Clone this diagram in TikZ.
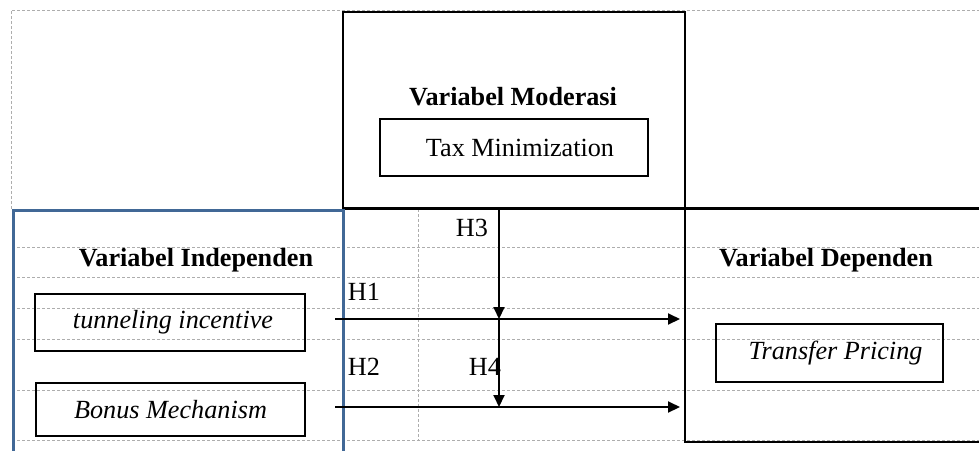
\documentclass[tikz,border=0pt]{standalone}
\usepackage{fontspec}
\setmainfont{Liberation Serif}
\usetikzlibrary{arrows.meta}
\begin{document}
\begin{tikzpicture}[x=0.5pt,y=-0.5pt,
  grid/.style={draw=black!32, line width=0.5pt, dash pattern=on 1.5pt off 1pt},
  frame/.style={draw=black, line width=1pt, inner sep=0pt, anchor=north west},
  varbox/.style={draw=black, line width=1pt, inner sep=0pt, font=\fontsize{13.1}{15}\selectfont\itshape},
  title/.style={inner sep=0pt, font=\fontsize{13.1}{15}\selectfont\bfseries},
  lbl/.style={inner sep=0pt, font=\fontsize{13.1}{15}\selectfont},
  arr/.style={draw=black, line width=1pt, -{Triangle[length=6pt,width=5.5pt]}}]
\useasboundingbox (0,0) rectangle (979,450);
\fill[white] (0,0) rectangle (979,450);
% dashed grid
\draw[grid] (11,209) -- (11,10) -- (979,10);
\foreach \yy in {247,277,308,339,390,440}
  \draw[grid] (12,\yy) -- (979,\yy);
\draw[grid] (418,209) -- (418,440);
% regions
\node[frame, minimum width=171pt, minimum height=98.5pt] (mod) at (342,11) {};
\node[frame, minimum width=160pt, minimum height=116.5pt] (dep) at (684,208) {};
\draw[black, line width=1pt] (342,208) -- (979,208);
\node[frame, draw={rgb,255:red,65;green,104;blue,150}, line width=1.5pt, minimum width=165pt, minimum height=130pt] (indep) at (12,209) {};
% titles
\node[title] (tmod) at (513,97) {Variabel Moderasi};
\node[title] (tind) at (196,260) {Variabel Independen};
\node[title] (tdep) at (826,260) {Variabel Dependen};
% variable boxes
\node[varbox, font=\fontsize{13.1}{15}\selectfont, minimum width=134pt, minimum height=28.5pt] (tax) at (514,147.5) {\hspace{6pt}Tax Minimization};
\node[varbox, minimum width=135pt, minimum height=28.5pt] (tun) at (170,322.5) {\hspace{3pt}tunneling incentive};
\node[varbox, minimum width=134.5pt, minimum height=26.5pt] (bon) at (170.5,409.5) {Bonus Mechanism};
\node[varbox, minimum width=113.5pt, minimum height=29pt] (tp) at (829.5,353) {\hspace{6pt}Transfer Pricing};
% hypothesis labels
\node[lbl] (H3) at (472,228) {H3};
\node[lbl] (H1) at (364,292) {H1};
\node[lbl] (H2) at (364,367) {H2};
\node[lbl] (H4) at (485,367) {H4};
% connectors
\coordinate (a1s) at (335,319);
\coordinate (a1e) at (680,319);
\coordinate (a2s) at (335,407);
\coordinate (a2e) at (680,407);
\coordinate (vx) at (499,0);
\coordinate (m1) at (499,319);
\coordinate (m2) at (499,407);
\draw[arr] (a1s) -- (a1e);
\draw[arr] (a2s) -- (a2e);
\draw[arr] (mod.south -| vx) -- (m1);
\draw[arr] (m1) -- (m2);
\end{tikzpicture}
\end{document}
